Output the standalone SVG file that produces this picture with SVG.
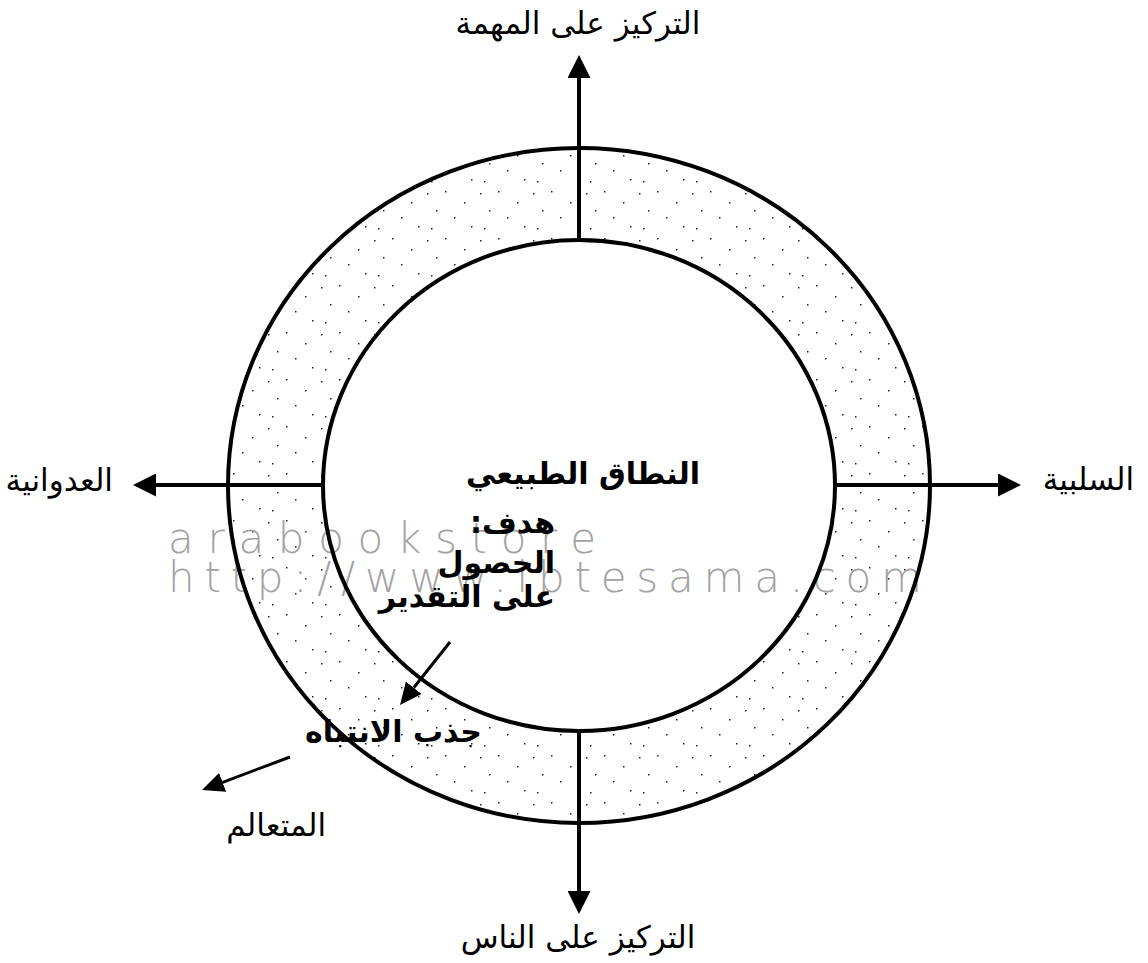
<svg xmlns="http://www.w3.org/2000/svg" width="1148" height="963" viewBox="0 0 1148 963">
<style>
.ar{font-family:"DejaVu Sans",sans-serif;fill:#000}
.lbl{font-size:31px}
.b{font-size:30px;font-weight:bold}
.ring{fill:none;stroke:#000;stroke-width:4}
.ax{stroke:#000;stroke-width:4;fill:none}
.dg{stroke:#000;stroke-width:3;fill:none}
.wm{font-family:"DejaVu Sans",sans-serif;font-weight:200;font-size:42px;fill:#a3a3a3}
</style>
<defs>
<marker id="ah" viewBox="0 0 23 23" refX="0" refY="11.5" markerWidth="23" markerHeight="23" markerUnits="userSpaceOnUse" orient="auto">
<path d="M0,0 L23,11.5 L0,23 Z" fill="#000"/>
</marker>
<marker id="ah2" viewBox="0 0 22 20" refX="0" refY="10" markerWidth="22" markerHeight="20" markerUnits="userSpaceOnUse" orient="auto">
<path d="M0,0 L22,10 L0,20 Z" fill="#000"/>
</marker>
<pattern id="dots" width="53" height="47" patternUnits="userSpaceOnUse">
<g fill="#222">
<rect x="3" y="5" width="1.5" height="1.5"/>
<rect x="21" y="3" width="1.5" height="1.5"/>
<rect x="40" y="14" width="1.5" height="1.5"/>
<rect x="12" y="22" width="1.5" height="1.5"/>
<rect x="30" y="29" width="1.5" height="1.5"/>
<rect x="47" y="38" width="1.5" height="1.5"/>
<rect x="7" y="40" width="1.5" height="1.5"/>
</g>
</pattern>
</defs>

<g id="ring-band">
<ellipse cx="579" cy="485.5" rx="351" ry="337.5" fill="url(#dots)"/>
<ellipse cx="579" cy="485.5" rx="256" ry="245.5" fill="#fff"/>
</g>

<g id="watermark">
<text class="wm" x="168" y="553" textLength="428" lengthAdjust="spacing">arabookstore</text>
<text class="wm" x="168" y="592" textLength="754" lengthAdjust="spacing">http://www.ibtesama.com</text>
</g>

<g id="outer-circle"><ellipse class="ring" cx="579" cy="485.5" rx="351" ry="337.5"/></g>
<g id="inner-circle"><ellipse class="ring" cx="579" cy="485.5" rx="256" ry="245.5"/></g>

<g id="connectors">
<line class="ax" x1="579" y1="240" x2="579" y2="78" marker-end="url(#ah)"/>
<line class="ax" x1="579" y1="731" x2="579" y2="891" marker-end="url(#ah)"/>
<line class="ax" x1="323" y1="485" x2="156" y2="485" marker-end="url(#ah)"/>
<line class="ax" x1="835" y1="485" x2="998" y2="485" marker-end="url(#ah)"/>
<line class="dg" x1="450" y1="642" x2="413.7" y2="687.8" marker-end="url(#ah2)"/>
<line class="dg" x1="290" y1="757" x2="222.6" y2="782.3" marker-end="url(#ah2)"/>
</g>

<g id="node-top"><text class="ar lbl" x="578" y="34" text-anchor="middle">التركيز على المهمة</text></g>
<g id="node-bottom"><text class="ar lbl" x="578" y="948" text-anchor="middle">التركيز على الناس</text></g>
<g id="node-left"><text class="ar lbl" x="113" y="491" text-anchor="end">العدوانية</text></g>
<g id="node-right"><text class="ar lbl" x="1134" y="490" text-anchor="end">السلبية</text></g>
<g id="node-center">
<text class="ar b" x="700" y="484" text-anchor="end">النطاق الطبيعي</text>
<text class="ar b" x="555" y="533" text-anchor="end">هدف:&#x200F;</text>
<text class="ar b" x="555" y="573" text-anchor="end">الحصول</text>
<text class="ar b" x="555" y="607" text-anchor="end">على التقدير</text>
</g>
<g id="node-attention"><text class="ar b" x="482" y="742" text-anchor="end">جذب الانتباه</text></g>
<g id="node-pedant"><text class="ar lbl" x="326" y="836" text-anchor="end">المتعالم</text></g>
</svg>
